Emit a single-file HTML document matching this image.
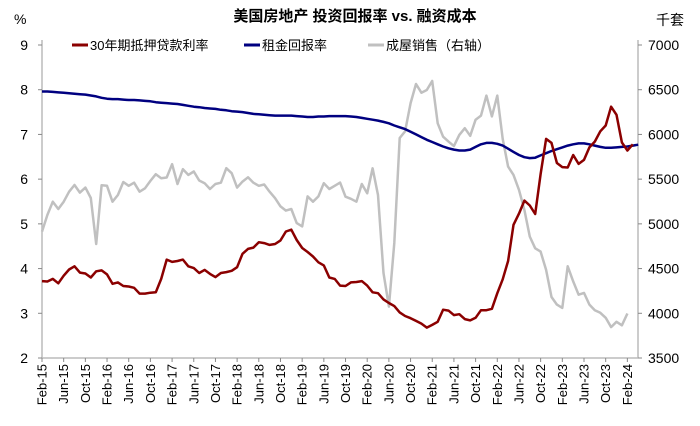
<!DOCTYPE html>
<html><head><meta charset="utf-8">
<style>
body{margin:0;background:#fff;}
svg{display:block;font-family:"Liberation Sans","Noto Sans CJK SC",sans-serif;}
</style></head>
<body>
<svg id="chart" width="700" height="426" viewBox="0 0 700 426" xmlns="http://www.w3.org/2000/svg">
<text x="355" y="21" text-anchor="middle" font-size="15" font-weight="bold" fill="#000">美国房地产 投资回报率 vs. 融资成本</text>
<text x="14" y="24" font-size="14" fill="#000">%</text>
<text x="656" y="25" font-size="14" fill="#000">千套</text>
<g>
<line x1="72" y1="45" x2="88" y2="45" stroke="#8b0000" stroke-width="3"/>
<text x="90" y="50" font-size="13">30年期抵押贷款利率</text>
<line x1="244" y1="45" x2="260" y2="45" stroke="#000080" stroke-width="3"/>
<text x="262" y="50" font-size="13">租金回报率</text>
<line x1="368" y1="45" x2="384" y2="45" stroke="#c0c0c0" stroke-width="3"/>
<text x="386" y="50" font-size="13">成屋销售（右轴）</text>
</g>
<g id="axes"></g>
<g id="series"></g>
</svg>
<script>
const leftTicks=[2,3,4,5,6,7,8,9];
const rightTicks=[3500,4000,4500,5000,5500,6000,6500,7000];
const xLabels=["Feb-15","Jun-15","Oct-15","Feb-16","Jun-16","Oct-16","Feb-17","Jun-17","Oct-17","Feb-18","Jun-18","Oct-18","Feb-19","Jun-19","Oct-19","Feb-20","Jun-20","Oct-20","Feb-21","Jun-21","Oct-21","Feb-22","Jun-22","Oct-22","Feb-23","Jun-23","Oct-23","Feb-24"];
const mortgage=[3.72,3.71,3.77,3.67,3.84,3.98,4.05,3.91,3.89,3.80,3.94,3.96,
3.87,3.66,3.69,3.61,3.60,3.57,3.44,3.44,3.46,3.47,3.77,4.20,
4.15,4.17,4.20,4.05,4.01,3.90,3.97,3.88,3.81,3.90,3.92,3.95,
4.03,4.33,4.44,4.47,4.59,4.57,4.53,4.55,4.63,4.83,4.87,4.64,
4.46,4.37,4.27,4.14,4.07,3.80,3.77,3.62,3.61,3.69,3.70,3.72,
3.62,3.47,3.45,3.31,3.23,3.16,3.02,2.94,2.89,2.83,2.77,2.68,
2.74,2.81,3.08,3.06,2.96,2.98,2.87,2.84,2.90,3.07,3.07,3.10,
3.45,3.76,4.17,4.98,5.23,5.52,5.41,5.22,6.11,6.90,6.81,6.36,
6.27,6.26,6.54,6.34,6.43,6.71,6.84,7.07,7.20,7.62,7.44,6.82,6.64,6.78];
const rentYield=[7.96,7.96,7.95,7.94,7.93,7.92,7.91,7.90,7.89,7.87,7.85,7.82,
7.80,7.79,7.79,7.78,7.77,7.77,7.76,7.75,7.74,7.72,7.71,7.70,
7.69,7.68,7.66,7.64,7.62,7.61,7.59,7.58,7.57,7.55,7.54,7.52,
7.51,7.50,7.48,7.46,7.45,7.44,7.43,7.42,7.42,7.42,7.42,7.41,
7.40,7.39,7.39,7.40,7.40,7.41,7.41,7.41,7.41,7.40,7.39,7.37,
7.35,7.33,7.31,7.28,7.25,7.20,7.16,7.12,7.06,7.00,6.94,6.88,
6.83,6.78,6.73,6.69,6.66,6.64,6.64,6.66,6.72,6.78,6.81,6.81,
6.79,6.75,6.68,6.61,6.54,6.49,6.47,6.48,6.53,6.58,6.63,6.67,
6.71,6.75,6.78,6.80,6.80,6.78,6.75,6.72,6.70,6.70,6.71,6.72,6.73,6.75,6.77];
const homeSales=[4913,5100,5248,5166,5248,5360,5435,5349,5405,5289,4775,5432,
5425,5248,5323,5468,5425,5460,5360,5398,5480,5555,5510,5518,
5667,5446,5611,5548,5585,5485,5455,5390,5446,5460,5622,5566,
5405,5473,5521,5460,5425,5440,5360,5287,5195,5148,5166,5009,
4972,5307,5248,5307,5455,5390,5425,5461,5304,5280,5248,5446,
5342,5621,5323,4450,4075,4786,5960,6035,6350,6564,6467,6497,
6598,6125,5975,5920,5870,5995,6070,5985,6165,6210,6434,6202,
6434,5950,5640,5548,5380,5155,4857,4727,4690,4485,4182,4097,
4060,4525,4357,4208,4228,4097,4035,4005,3950,3845,3905,3866,3998];

const NS="http://www.w3.org/2000/svg";
const X0=42, DX=5.42, YT=45, YB=358;
function xPos(i){return X0+i*DX;}
function yLeft(v){return YB-(v-2)/(9-2)*(YB-YT);}
function yRight(v){return YB-(v-3500)/(7000-3500)*(YB-YT);}
const axes=document.getElementById('axes');
const series=document.getElementById('series');
function mk(tag,attrs,parent){const e=document.createElementNS(NS,tag);for(const k in attrs)e.setAttribute(k,attrs[k]);parent.appendChild(e);return e;}

let l=mk('line',{x1:X0,y1:YT-5,x2:X0,y2:YB,stroke:'#bbb','stroke-width':1.5},axes);


l=mk('line',{x1:638,y1:YT-5,x2:638,y2:YB,stroke:'#bbb','stroke-width':1.5},axes);


l=mk('line',{x1:X0,y1:YB,x2:638,y2:YB,stroke:'#bbb','stroke-width':1.5},axes);



leftTicks.forEach(v=>{
  const y=yLeft(v);
  mk('line',{x1:X0-4,y1:y,x2:X0,y2:y,stroke:'#888'},axes);
  const t=mk('text',{x:28,y:y+5,'text-anchor':'end','font-size':14},axes);
  t.textContent=v;
  
  
});
rightTicks.forEach(v=>{
  const y=yRight(v);
  mk('line',{x1:638,y1:y,x2:642,y2:y,stroke:'#888'},axes);
  const t=mk('text',{x:648,y:y+5,'font-size':14},axes);
  t.textContent=v;
  
  
});
xLabels.forEach((s,k)=>{
  const x=xPos(k*4);
  mk('line',{x1:x,y1:YB,x2:x,y2:YB+4,stroke:'#888'},axes);
  const t=mk('text',{x:0,y:0,'text-anchor':'end','font-size':13,transform:`translate(${x+4.5},${YB+6}) rotate(-90)`},axes);
  t.textContent=s;
  
  
});
function path(arr,yf,color,name){
  const d=arr.map((v,i)=>(i?'L':'M')+xPos(i).toFixed(1)+' '+yf(v).toFixed(1)).join(' ');
  const p=mk('path',{d:d,fill:'none',stroke:color,'stroke-width':2.5,'stroke-linejoin':'round'},series);
  
  
}
path(homeSales,yRight,'#c0c0c0','home-sales-line');
path(rentYield,yLeft,'#000080','rent-yield-line');
path(mortgage,yLeft,'#8b0000','mortgage-rate-line');
</script>
</body></html>
